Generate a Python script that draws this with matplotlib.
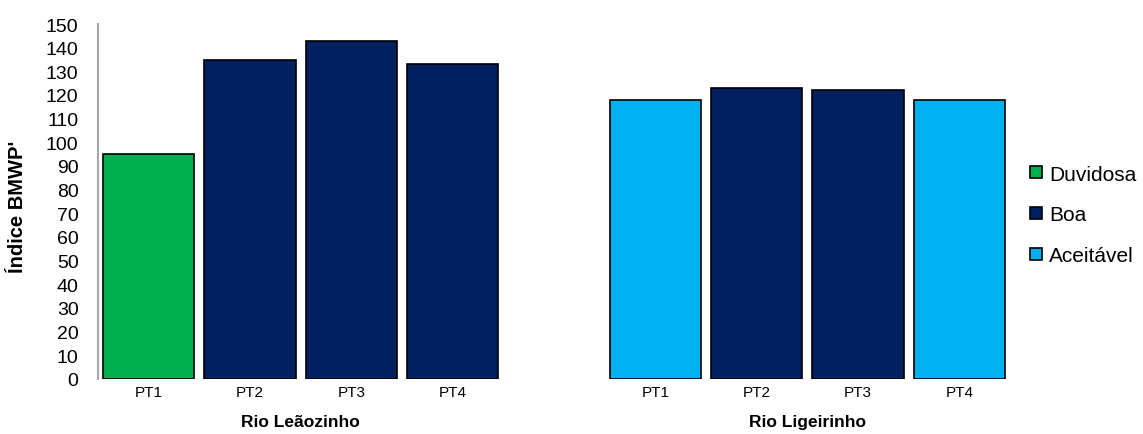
import numpy as np
import matplotlib
matplotlib.use("Agg")
import matplotlib.pyplot as plt
from matplotlib.lines import Line2D
from matplotlib.transforms import blended_transform_factory

plt.rcParams['font.family'] = ['Liberation Sans', 'DejaVu Sans']

# data
sites = ["PT1", "PT2", "PT3", "PT4"]
rivers = ["Rio Leãozinho", "Rio Ligeirinho"]
leaozinho = [95, 135, 143, 133]
ligeirinho = [118, 123, 122, 118]
leaozinho_class = ["Duvidosa", "Boa", "Boa", "Boa"]
ligeirinho_class = ["Aceitável", "Boa", "Boa", "Aceitável"]
classes = ["Duvidosa", "Boa", "Aceitável"]
class_colors = {"Duvidosa": "#00B050", "Boa": "#002060", "Aceitável": "#00B0F0"}

W, H = 1143, 435
fig = plt.figure(figsize=(W / 100, H / 100), dpi=100)
ax = fig.add_axes([98 / W, 55 / H, 912 / W, 355 / H])

x_left = np.arange(4)
x_right = np.arange(4) + 5
ax.bar(x_left, leaozinho, width=0.9, color=[class_colors[c] for c in leaozinho_class],
       edgecolor="black", linewidth=1.2)
ax.bar(x_right, ligeirinho, width=0.9, color=[class_colors[c] for c in ligeirinho_class],
       edgecolor="black", linewidth=1.2)

ax.set_xlim(-0.5, 8.5)
ax.set_ylim(0, 150)
ax.set_yticks(np.arange(0, 151, 10))
ax.set_xticks(np.concatenate([x_left, x_right]))
ax.set_xticklabels(sites + sites, fontsize=11)
ax.tick_params(axis="y", length=0, pad=14, labelsize=14)
ax.tick_params(axis="x", length=0, pad=4)

for s in ["top", "right", "bottom"]:
    ax.spines[s].set_visible(False)
ax.spines["left"].set_color("#A6A6A6")
ax.spines["left"].set_linewidth(1.5)

trans = blended_transform_factory(ax.transData, ax.transAxes)
ax.text(x_left.mean(), -0.12, rivers[0], transform=trans, ha="center", va="center",
        fontsize=12.5, fontweight="bold")
ax.text(x_right.mean(), -0.12, rivers[1], transform=trans, ha="center", va="center",
        fontsize=12.5, fontweight="bold")

fig.text(18 / W, 1 - 207 / H, "Índice BMWP'", rotation=90, ha="center", va="center",
         fontsize=14.5, fontweight="bold")

handles = [Line2D([], [], marker="s", linestyle="none", markersize=8.5,
                  markerfacecolor=class_colors[c], markeredgecolor="black",
                  markeredgewidth=1.2) for c in classes]
fig.legend(handles, classes, loc="center left", bbox_to_anchor=(1028 / W, 1 - 216 / H),
           frameon=False, fontsize=15, handlelength=0.8, handletextpad=0.2,
           labelspacing=1.05, borderpad=0, borderaxespad=0)

fig.savefig("out.png", dpi=100)
